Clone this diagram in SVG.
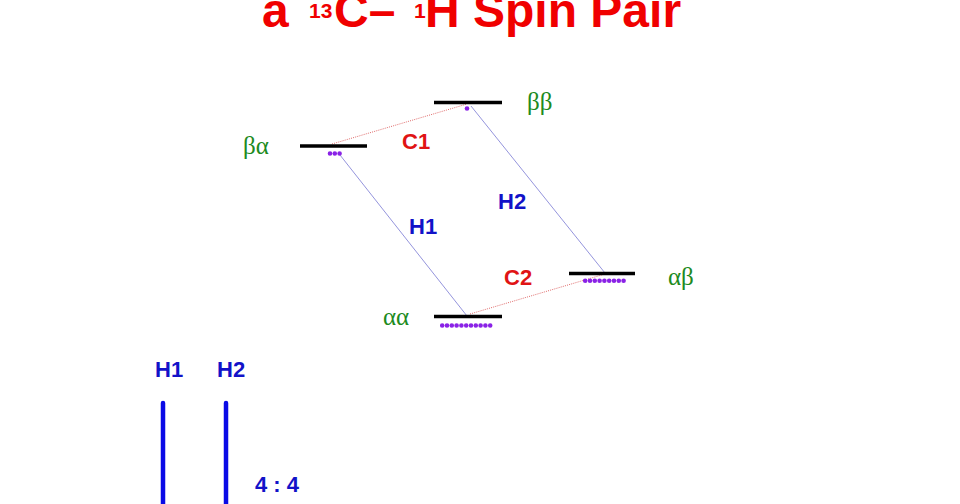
<svg xmlns="http://www.w3.org/2000/svg" width="960" height="504" viewBox="0 0 960 504">
<style>
.title{font-family:"Liberation Sans",Arial,sans-serif;font-weight:bold;fill:#f00000}
.lvl{stroke:#000;stroke-width:3.5}
.dots{stroke:#8a22e6;stroke-width:4.6;stroke-linecap:round;stroke-dasharray:0 4.8}
.greek{font-family:"Liberation Serif","Times New Roman",serif;font-size:25px;fill:#208a20}
.lab{font-family:"Liberation Sans",Arial,sans-serif;font-weight:bold;font-size:22px}
.red{fill:#e01414}
.blue{fill:#1212c8}
.cline{stroke:#e06a6a;stroke-width:1;stroke-dasharray:1 1.2;fill:none}
.hline{stroke:#8888d8;stroke-width:0.9;fill:none}
.peak{stroke:#0a0ae6;stroke-width:4.5;stroke-linecap:round}
</style>
<rect width="960" height="504" fill="#fff"/>
<text class="title" y="26.5" font-size="48"><tspan x="262">a</tspan><tspan x="309" y="17.5" font-size="21">13</tspan><tspan x="334" y="26.5">C–</tspan><tspan x="414" y="17.5" font-size="21">1</tspan><tspan x="425" y="26.5">H Spin Pair</tspan></text>
<g id="connectors">
<line class="cline" x1="332" y1="144" x2="467" y2="104"/>
<line class="hline" x1="340" y1="155" x2="467" y2="316"/>
<line class="hline" x1="471" y1="106" x2="605" y2="273"/>
<line class="cline" x1="470" y1="314" x2="605" y2="274"/>
<text class="lab red" x="402" y="149">C1</text>
<text class="lab blue" x="409" y="234">H1</text>
<text class="lab blue" x="498" y="209">H2</text>
<text class="lab red" x="504" y="285">C2</text>
</g>
<g id="level-bb">
<line class="lvl" x1="434" y1="102.5" x2="502" y2="102.5"/>
<line class="dots" x1="467" y1="108.5" x2="467.1" y2="108.5"/>
<text class="greek" x="527" y="110">ββ</text>
</g>
<g id="level-ba">
<line class="lvl" x1="300" y1="146" x2="367" y2="146"/>
<line class="dots" x1="330" y1="153.5" x2="339.7" y2="153.5"/>
<text class="greek" x="243" y="154">βα</text>
</g>
<g id="level-ab">
<line class="lvl" x1="569" y1="273.5" x2="635" y2="273.5"/>
<line class="dots" x1="585.2" y1="280.7" x2="623.7" y2="280.7"/>
<text class="greek" x="668" y="285">αβ</text>
</g>
<g id="level-aa">
<line class="lvl" x1="434" y1="316.5" x2="502" y2="316.5"/>
<line class="dots" x1="442.2" y1="325.5" x2="490.3" y2="325.5"/>
<text class="greek" x="383" y="325">αα</text>
</g>
<g id="spectrum">
<text class="lab blue" x="155" y="377">H1</text>
<text class="lab blue" x="217" y="377">H2</text>
<line class="peak" x1="163" y1="403" x2="163" y2="512"/>
<line class="peak" x1="226" y1="403" x2="226" y2="512"/>
<text class="lab blue" x="255" y="492">4 : 4</text>
</g>
</svg>
